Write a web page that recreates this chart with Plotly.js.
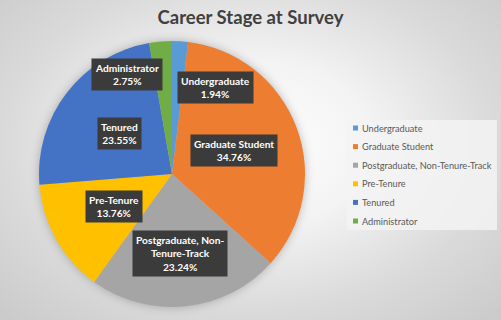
<!DOCTYPE html>
<html>
<head>
<meta charset="utf-8">
<script src="https://cdn.plot.ly/plotly-3.0.1.min.js"></script>
<style>
  html, body { margin: 0; padding: 0; }
  #chart {
    width: 501px; height: 320px;
    background: radial-gradient(ellipse 70% 75% at 50% 45%, #ffffff 0%, #f3f3f3 35%, #dadada 70%, #cbcbcb 100%);
  }
  #chart .pielayer { filter: drop-shadow(0 0 5px rgba(0,0,0,0.25)); }
</style>
</head>
<body>
<div id="chart"></div>
<script>
// ---- data ----
const categories = ["Undergraduate", "Graduate Student", "Postgraduate, Non-Tenure-Track", "Pre-Tenure", "Tenured", "Administrator"];
const labelText = ["Undergraduate", "Graduate Student", "Postgraduate, Non-<br>Tenure-Track", "Pre-Tenure", "Tenured", "Administrator"];
const percents = [1.94, 34.76, 23.24, 13.76, 23.55, 2.75];
const colors = ["#5B9BD5", "#ED7D31", "#A5A5A5", "#FFC000", "#4472C4", "#70AD47"];

// ---- layout constants ----
const W = 501, H = 320;
const domain = { x: [39 / W, 305 / W], y: [1 - 307 / H, 1 - 41 / H] };
const cx = (domain.x[0] + domain.x[1]) / 2 * W;
const cy = (1 - (domain.y[0] + domain.y[1]) / 2) * H;
const R = (domain.x[1] - domain.x[0]) * W / 2;

// label placement rules (Excel best-fit approximation)
function labelPlacement(i, midDeg, frac) {
  const rad = midDeg * Math.PI / 180;
  let r = 0.5, anchor = "center";
  if (frac < 0.05) {
    r = midDeg > 180 ? 0.75 : 0.65;
    anchor = midDeg > 180 ? "right" : "left";
  } else if (categories[i].length > 20) {
    r = 0.6;
  }
  const px = cx + Math.sin(rad) * r * R;
  const py = cy - Math.cos(rad) * r * R;
  return { x: px / W, y: 1 - py / H, xanchor: anchor };
}

const total = percents.reduce((a, b) => a + b, 0);
let cum = 0;
const annotations = [];
percents.forEach((v, i) => {
  const mid = (cum + v / 2) / total * 360;
  cum += v;
  const p = labelPlacement(i, mid, v / total);
  annotations.push({
    x: p.x, y: p.y, xref: "paper", yref: "paper",
    xanchor: p.xanchor, yanchor: "middle",
    text: "<b>" + labelText[i] + "<br>" + v.toFixed(2) + "%</b>",
    showarrow: false,
    align: "center",
    bgcolor: "#3b3b3b",
    borderpad: 3,
    font: { family: "Lato, 'Open Sans', sans-serif", size: 10.2, color: "#ffffff" }
  });
});

// custom legend
const shapes = [{
  type: "rect", xref: "paper", yref: "paper",
  x0: 347 / W, x1: 497 / W, y0: 1 - 230 / H, y1: 1 - 120 / H,
  fillcolor: "rgba(243,243,243,0.85)", line: { width: 0 }, layer: "below"
}];
categories.forEach((c, i) => {
  const yc = 128 + i * 18.6;
  shapes.push({
    type: "rect", xref: "paper", yref: "paper",
    x0: 353 / W, x1: 358 / W, y0: 1 - (yc + 2.5) / H, y1: 1 - (yc - 2.5) / H,
    fillcolor: colors[i], line: { width: 0 }
  });
  annotations.push({
    x: 360 / W, y: 1 - yc / H, xref: "paper", yref: "paper",
    xanchor: "left", yanchor: "middle", showarrow: false,
    text: c,
    font: { family: "Lato, 'Open Sans', sans-serif", size: 9.2, color: "#595959" }
  });
});

const trace = {
  type: "pie",
  labels: categories,
  values: percents,
  sort: false,
  direction: "clockwise",
  rotation: 0,
  marker: { colors: colors, line: { width: 0 } },
  textinfo: "none",
  hoverinfo: "label+percent",
  domain: domain,
  showlegend: false
};

const layout = {
  width: W, height: H,
  margin: { l: 0, r: 0, t: 0, b: 0 },
  paper_bgcolor: "rgba(0,0,0,0)",
  plot_bgcolor: "rgba(0,0,0,0)",
  title: {
    text: "<b>Career Stage at Survey</b>",
    font: { family: "Lato, 'Open Sans', sans-serif", size: 18.5, color: "#404040" },
    x: 0.5, xanchor: "center", y: 1 - 18 / H, yanchor: "middle", yref: "paper"
  },
  showlegend: false,
  annotations: annotations,
  shapes: shapes
};

Plotly.newPlot("chart", [trace], layout, { displayModeBar: false, staticPlot: true });
</script>
</body>
</html>
